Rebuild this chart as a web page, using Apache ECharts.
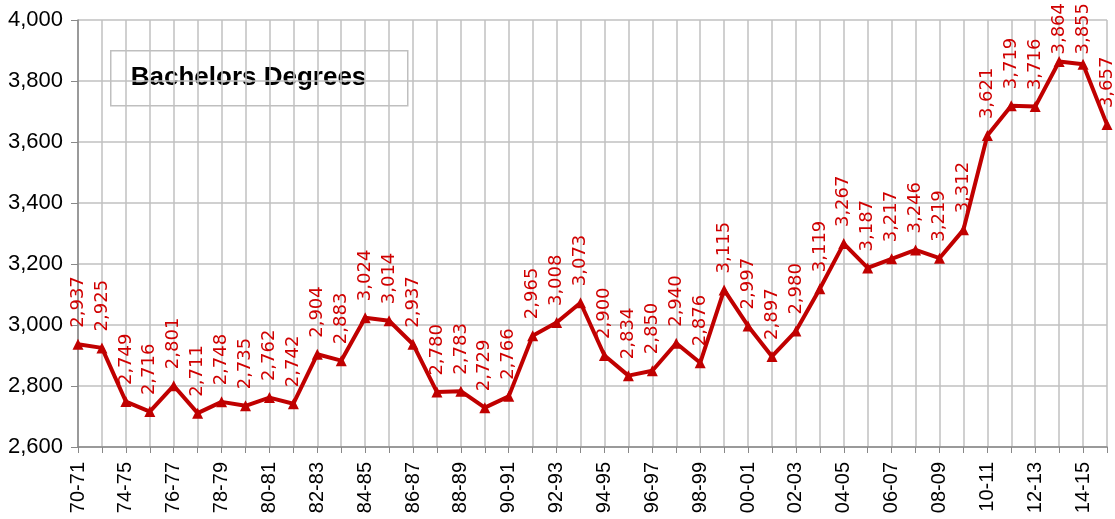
<!DOCTYPE html>
<html>
<head>
<meta charset="utf-8">
<script src="https://cdn.jsdelivr.net/npm/echarts@6/dist/echarts.min.js"></script>
<style>
  html, body { margin: 0; padding: 0; background: #fff; }
  #chart { width: 1115px; height: 519px; }
</style>
</head>
<body>
<div id="chart"></div>
<script>
// academic years (first two are every other year)
var years = ['70-71', '72-73', '74-75', '75-76', '76-77', '77-78', '78-79', '79-80', '80-81', '81-82',
  '82-83', '83-84', '84-85', '85-86', '86-87', '87-88', '88-89', '89-90', '90-91', '91-92',
  '92-93', '93-94', '94-95', '95-96', '96-97', '97-98', '98-99', '99-00', '00-01', '01-02',
  '02-03', '03-04', '04-05', '05-06', '06-07', '07-08', '08-09', '09-10', '10-11', '11-12',
  '12-13', '13-14', '14-15', '15-16']

var degrees = [2937, 2925, 2749, 2716, 2801, 2711, 2748, 2735, 2762, 2742,
  2904, 2883, 3024, 3014, 2937, 2780, 2783, 2729, 2766, 2965,
  3008, 3073, 2900, 2834, 2850, 2940, 2876, 3115, 2997, 2897,
  2980, 3119, 3267, 3187, 3217, 3246, 3219, 3312, 3621, 3719,
  3716, 3864, 3855, 3657]

var yTicks = { min: 2600, max: 4000, step: 200 }

var myChart = echarts.init(document.getElementById('chart'))

myChart.setOption({
  animation: false,
  grid: { left: 78, right: 8, top: 20, bottom: 72 },
  graphic: [{
    type: 'group',
    left: 110, top: 50,
    children: [
      { type: 'rect', shape: { x: 0, y: 0, width: 297, height: 55 },
        style: { fill: '#fff', stroke: '#bfbfbf', lineWidth: 1.5 } },
      { type: 'text', x: 20, y: 27,
        style: { text: 'Bachelors Degrees', font: 'bold 26px "Liberation Sans", Arial, sans-serif',
          fill: '#000', verticalAlign: 'middle' } }
    ]
  }],
  xAxis: {
    type: 'category',
    data: years,
    boundaryGap: false,
    axisLine: { lineStyle: { color: '#888', width: 1.5 } },
    axisTick: { show: true, interval: 0, length: 6, lineStyle: { color: '#888' } },
    axisLabel: {
      interval: 1,
      rotate: 90,
      color: '#000',
      fontSize: 20,
      fontFamily: 'Liberation Sans',
      margin: 15
    },
    splitLine: { show: true, interval: 0, lineStyle: { color: '#c0c0c0', width: 1.5 } }
  },
  yAxis: {
    type: 'value',
    min: yTicks.min,
    max: yTicks.max,
    interval: yTicks.step,
    axisLine: { show: true, lineStyle: { color: '#888', width: 1.5 } },
    axisTick: { show: true, length: 7, lineStyle: { color: '#888' } },
    axisLabel: {
      color: '#000',
      fontSize: 22,
      fontFamily: 'Liberation Sans',
      margin: 15,
      formatter: function (v) { return v.toLocaleString('en-US') }
    },
    splitLine: { lineStyle: { color: '#c0c0c0', width: 1.5 } }
  },
  series: [{
    type: 'line',
    data: degrees,
    symbol: 'triangle',
    symbolSize: 11,
    lineStyle: { color: '#c00000', width: 4 },
    itemStyle: { color: '#c00000' },
    label: {
      show: true,
      position: 'top',
      rotate: 90,
      align: 'left',
      verticalAlign: 'middle',
      distance: 11,
      color: '#d00000',
      fontSize: 18,
      fontFamily: 'DejaVu Sans',
      formatter: function (p) { return p.value.toLocaleString('en-US') }
    },
    // keep labels inside the chart like the original does
    // (label is rotated, so its local x runs upward on screen)
    labelLayout: function (params) {
      var r = params.labelRect
      if (r.y < 3) return { dx: r.y - 3 }
      return {}
    }
  }]
})
</script>
</body>
</html>
